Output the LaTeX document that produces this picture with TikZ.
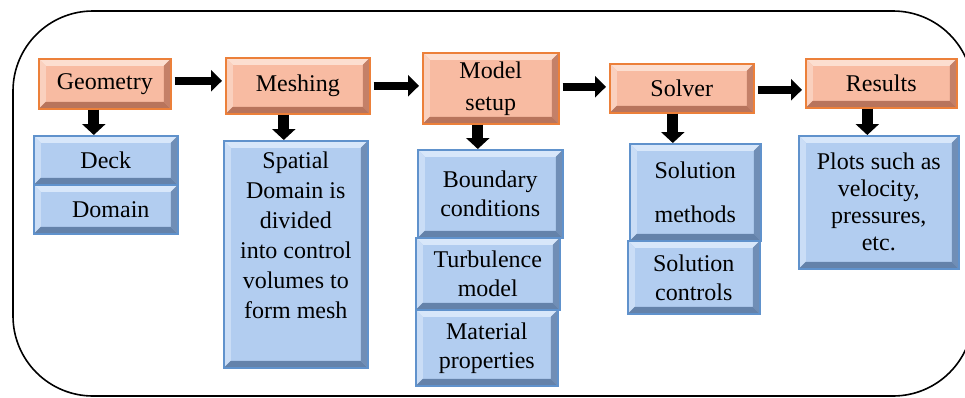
\documentclass[tikz,border=0pt]{standalone}
\usepackage{fontspec}
\setmainfont{Liberation Serif}
\newfontfamily\tnrfont{Liberation Serif}
\usetikzlibrary{arrows.meta,calc}
\definecolor{orface}{RGB}{248,187,162}
\definecolor{orline}{RGB}{236,128,58}
\definecolor{ortop}{RGB}{252,222,208}
\definecolor{orleft}{RGB}{250,208,190}
\definecolor{orright}{RGB}{196,128,104}
\definecolor{orbot}{RGB}{184,116,92}
\definecolor{blface}{RGB}{178,205,240}
\definecolor{blline}{RGB}{96,146,204}
\definecolor{bltop}{RGB}{216,231,250}
\definecolor{blleft}{RGB}{202,221,246}
\definecolor{blright}{RGB}{112,142,182}
\definecolor{blbot}{RGB}{100,130,170}
\begin{document}
\begin{tikzpicture}[x=1pt,y=-1pt,
  bevel/.style n args={4}{path picture={
    \fill[#1] let \p1=(path picture bounding box.south west), \p2=(path picture bounding box.north east) in
      (\x1,\y2) -- (\x2,\y2) -- (\x2-7pt,\y2-7pt) -- (\x1+7pt,\y2-7pt) -- cycle;
    \fill[#2] let \p1=(path picture bounding box.south west), \p2=(path picture bounding box.north east) in
      (\x1,\y2) -- (\x1+7pt,\y2-7pt) -- (\x1+7pt,\y1+7pt) -- (\x1,\y1) -- cycle;
    \fill[#3] let \p1=(path picture bounding box.south west), \p2=(path picture bounding box.north east) in
      (\x2,\y2) -- (\x2-7pt,\y2-7pt) -- (\x2-7pt,\y1+7pt) -- (\x2,\y1) -- cycle;
    \fill[#4] let \p1=(path picture bounding box.south west), \p2=(path picture bounding box.north east) in
      (\x1,\y1) -- (\x1+7pt,\y1+7pt) -- (\x2-7pt,\y1+7pt) -- (\x2,\y1) -- cycle;
  }},
  orbox/.style={draw=orline, fill=orface, line width=1.6pt, inner sep=0pt, anchor=north west,
    align=center, font=\tnrfont\fontsize{24}{32}\selectfont, bevel={ortop}{orleft}{orright}{orbot}},
  blbox/.style={draw=blline, fill=blface, line width=1.6pt, inner sep=0pt, anchor=north west,
    align=center, font=\tnrfont\fontsize{24}{29}\selectfont, bevel={bltop}{blleft}{blright}{blbot}},
  txt/.style={inner sep=0pt, align=center, font=\tnrfont\fontsize{24}{30}\selectfont},
  rarrow/.style={line width=8pt, -{Triangle[length=11pt,width=21pt]}, shorten <=3pt, shorten >=3pt},
  darrow/.style={line width=11pt, -{Triangle[length=11pt,width=23pt]}},
  frame/.style={line width=1.6pt, rounded corners=80pt}
]
\useasboundingbox (0,0) rectangle (965,397);
\begin{scope}
  \clip (0,0) rectangle (965,397);
  \draw[frame] (13,11) rectangle (973,396);
\end{scope}

% top row
\node[orbox, minimum width=132pt, minimum height=50pt] (geo) at (38,58) {Geometry};
\node[orbox, minimum width=144pt, minimum height=56pt] (mesh) at (225,57) {Meshing};
\node[orbox, minimum width=136pt, minimum height=71pt] (model) at (422,52) {Model\\setup};
\node[orbox, minimum width=144pt, minimum height=49pt] (solver) at (609,63) {Solver};
\node[orbox, minimum width=151pt, minimum height=49pt] (results) at (805,58) {Results};

% blue boxes
\node[blbox, minimum width=144pt, minimum height=49pt] (deck) at (33,135) {Deck};
\node[blbox, minimum width=144pt, minimum height=49pt] (domain) at (33,184) {\hspace*{10pt}Domain};
\node[blbox, minimum width=144pt, minimum height=227pt] (spatial) at (223,140) {};
\node[txt, anchor=north] (spatialtext) at ([yshift=-12pt]spatial.north)
  {Spatial\\Domain is\\divided\\into control\\volumes to\\form mesh};
\node[blbox, minimum width=145pt, minimum height=88pt] (boundary) at (417,149) {Boundary\\conditions};
\node[blbox, minimum width=144pt, minimum height=72pt] (turb) at (415,237) {Turbulence\\model};
\node[blbox, minimum width=142pt, minimum height=76pt] (material) at (415,309) {Material\\properties};
\node[blbox, minimum width=131pt, minimum height=97pt] (solmeth) at (629,143) {Solution\\[15pt]methods};
\node[blbox, minimum width=132pt, minimum height=73pt] (solctrl) at (627,240) {Solution\\controls};
\node[blbox, minimum width=160pt, minimum height=133pt, font=\tnrfont\fontsize{24}{27}\selectfont] (plots) at (798,135)
  {Plots such as\\velocity,\\pressures,\\etc.};

% horizontal arrows
\draw[rarrow] ([yshift=3pt]geo.east) -- ([yshift=3pt]geo.east -| mesh.west);
\draw[rarrow] (mesh.east) -- (mesh.east -| model.west);
\draw[rarrow] ([yshift=1.5pt]model.east) -- ([yshift=1.5pt]model.east -| solver.west);
\draw[rarrow] ([yshift=-1.5pt]solver.east) -- ([yshift=-1.5pt]solver.east -| results.west);

% vertical arrows
\draw[darrow] ([xshift=-11pt]geo.south) -- ([xshift=-11pt]geo.south |- deck.north);
\draw[darrow] ([xshift=-14pt]mesh.south) -- ([xshift=-14pt]mesh.south |- spatial.north);
\draw[darrow] ([xshift=-13pt]model.south) -- ([xshift=-13pt]model.south |- boundary.north);
\draw[darrow] ([xshift=-9pt]solver.south) -- ([xshift=-9pt]solver.south |- solmeth.north);
\draw[darrow] ([xshift=-14pt]results.south) -- ([xshift=-14pt]results.south |- plots.north);
\end{tikzpicture}
\end{document}
